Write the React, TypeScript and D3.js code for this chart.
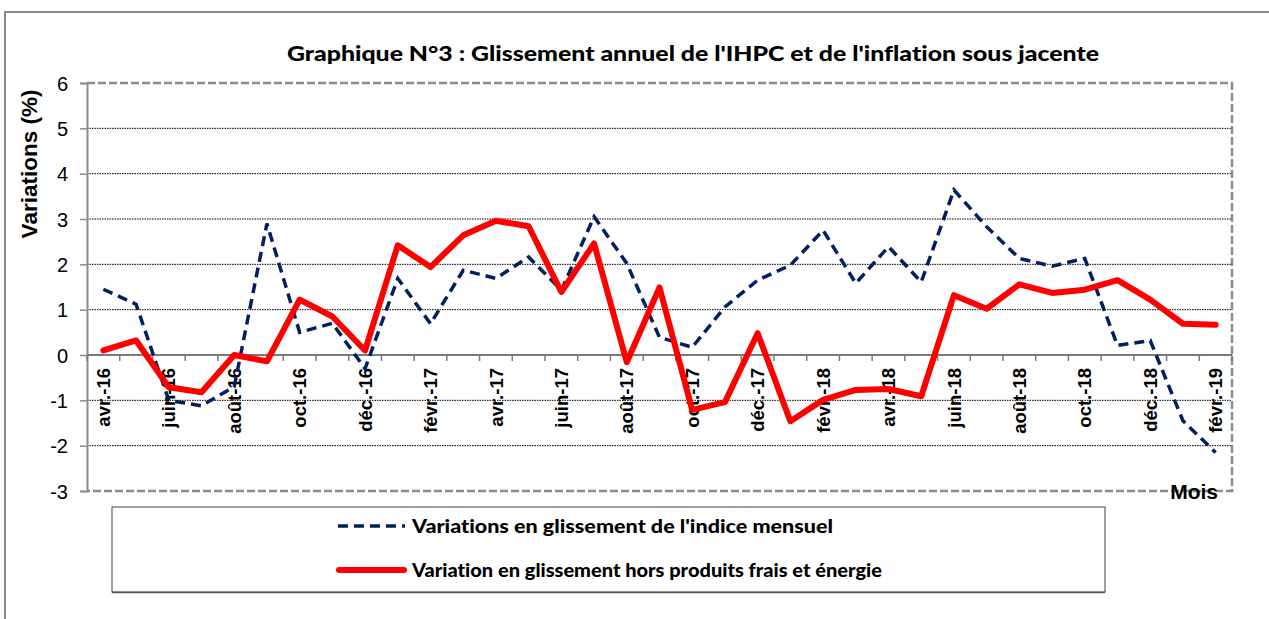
import React, { useEffect, useRef } from 'react'
import * as d3 from 'd3'

// mois (avr.-16 -> févr.-19)
const months = [
  'avr.-16', 'mai-16', 'juin-16', 'juil.-16', 'août-16', 'sept.-16', 'oct.-16', 'nov.-16', 'déc.-16',
  'janv.-17', 'févr.-17', 'mars-17', 'avr.-17', 'mai-17', 'juin-17', 'juil.-17', 'août-17', 'sept.-17',
  'oct.-17', 'nov.-17', 'déc.-17', 'janv.-18', 'févr.-18', 'mars-18', 'avr.-18', 'mai-18', 'juin-18',
  'juil.-18', 'août-18', 'sept.-18', 'oct.-18', 'nov.-18', 'déc.-18', 'janv.-19', 'févr.-19'
]

const indiceMensuel = [
  1.45, 1.12, -1.0, -1.12, -0.7, 2.9, 0.5, 0.7, -0.3, 1.69, 0.69, 1.87,
  1.69, 2.16, 1.43, 3.05, 2.02, 0.39, 0.17, 1.06, 1.65, 1.98, 2.75, 1.58,
  2.39, 1.61, 3.64, 2.83, 2.13, 1.96, 2.13, 0.21, 0.32, -1.45, -2.15
]

const horsProduitsFrais = [
  0.1, 0.32, -0.71, -0.82, 0.0, -0.14, 1.22, 0.85, 0.1, 2.42, 1.94, 2.64,
  2.96, 2.84, 1.39, 2.46, -0.16, 1.49, -1.21, -1.04, 0.48, -1.46, -0.99, -0.77,
  -0.75, -0.91, 1.32, 1.02, 1.56, 1.37, 1.44, 1.65, 1.22, 0.69, 0.67
]

const yTicks = [-3, -2, -1, 0, 1, 2, 3, 4, 5, 6]

const title = "Graphique N°3 : Glissement annuel de l'IHPC et de l'inflation sous jacente"
const legendLabels = [
  "Variations en glissement de l'indice mensuel",
  'Variation en glissement hors produits frais et énergie'
]

const W = 1269
const H = 619
const arial = "'Liberation Sans', Arial, sans-serif"
const calibri = "Lato, 'Open Sans', sans-serif"

export default function App() {
  const svgRef = useRef<SVGSVGElement>(null)

  useEffect(() => {
    const svg = d3.select(svgRef.current)
    svg.selectAll('*').remove()

    const left = 87, right = 1232, top = 83, bottom = 491

    const x = d3.scaleBand<string>().domain(months).range([left, right]).padding(0)
    const y = d3.scaleLinear().domain([-3, 6]).range([bottom, top])
    const cx = (d: string) => (x(d) as number) + x.bandwidth() / 2

    // outer frame
    svg.append('rect')
      .attr('x', 5).attr('y', 12).attr('width', W + 20).attr('height', H + 20)
      .attr('fill', 'white').attr('stroke', '#8c8c8c').attr('stroke-width', 2)

    // title
    svg.append('text')
      .attr('x', 287).attr('y', 61)
      .attr('textLength', 812).attr('lengthAdjust', 'spacingAndGlyphs')
      .style('font-family', calibri).style('font-weight', 900).style('font-size', '20px')
      .style('font-variant-ligatures', 'none')
      .text(title)

    // grid lines
    svg.append('g').selectAll('line')
      .data(yTicks.filter(t => t !== 0 && t !== 6 && t !== -3))
      .join('line')
      .attr('x1', left).attr('x2', right)
      .attr('y1', d => y(d)).attr('y2', d => y(d))
      .attr('stroke', '#000').attr('stroke-width', 1).attr('stroke-dasharray', '1.5,1')

    // plot area dashed border (top, right, bottom)
    svg.append('path')
      .attr('d', `M${left},${top}H${right}V${bottom}H${left}`)
      .attr('fill', 'none').attr('stroke', '#8c8c8c').attr('stroke-width', 2.5)
      .attr('stroke-dasharray', '8,3')

    // y axis
    const yAxis = d3.axisLeft(y).tickValues(yTicks).tickSize(7).tickPadding(12).tickFormat(d => String(d))
    const gy = svg.append('g').attr('transform', `translate(${left},0)`).call(yAxis)
    gy.select('.domain').attr('stroke', '#8c8c8c').attr('stroke-width', 2)
    gy.selectAll('.tick line').attr('stroke', '#8c8c8c').attr('stroke-width', 1.5)
    gy.selectAll('.tick text')
      .style('font-family', arial).style('font-size', '20px').attr('fill', '#000')
      .attr('dy', '0.36em')

    // zero axis with ticks between months
    const boundaries = months.map(m => x(m) as number).concat([right])
    const g0 = svg.append('g')
    g0.append('line')
      .attr('x1', left).attr('x2', right).attr('y1', y(0)).attr('y2', y(0))
      .attr('stroke', '#7a7a7a').attr('stroke-width', 2)
    g0.selectAll('line.tk').data(boundaries).join('line').attr('class', 'tk')
      .attr('x1', d => d).attr('x2', d => d)
      .attr('y1', y(0)).attr('y2', y(0) + 6)
      .attr('stroke', '#7a7a7a').attr('stroke-width', 1.5)

    // month labels (every second month)
    svg.append('g').selectAll('text')
      .data(months.filter((_, i) => i % 2 === 0))
      .join('text')
      .attr('transform', d => `translate(${cx(d)},${y(0) + 13}) rotate(-90)`)
      .attr('text-anchor', 'end').attr('dy', '0.36em')
      .style('font-family', arial).style('font-weight', 'bold').style('font-size', '18.5px')
      .text(d => d)

    // series
    const line = d3.line<number>()
      .x((_, i) => cx(months[i]))
      .y(d => y(d))

    svg.append('path')
      .datum(indiceMensuel)
      .attr('d', line)
      .attr('fill', 'none').attr('stroke', '#002060').attr('stroke-width', 3.5)
      .attr('stroke-dasharray', '10,6')

    svg.append('path')
      .datum(horsProduitsFrais)
      .attr('d', line)
      .attr('fill', 'none').attr('stroke', '#ff0000').attr('stroke-width', 6)
      .attr('stroke-linejoin', 'round').attr('stroke-linecap', 'round')

    // y title
    svg.append('text')
      .attr('transform', 'translate(37,164) rotate(-90)')
      .attr('text-anchor', 'middle')
      .style('font-family', arial).style('font-weight', 'bold').style('font-size', '22.5px')
      .text('Variations (%)')

    // x title
    svg.append('text')
      .attr('x', 1218).attr('y', 499).attr('text-anchor', 'end')
      .style('font-family', arial).style('font-weight', 'bold').style('font-size', '21px')
      .text('Mois')

    // legend
    const lg = svg.append('g')
    lg.append('rect')
      .attr('x', 112).attr('y', 507).attr('width', 993).attr('height', 85)
      .attr('fill', 'white').attr('stroke', '#404040').attr('stroke-width', 1)
    lg.append('line')
      .attr('x1', 112).attr('x2', 1105).attr('y1', 592.5).attr('y2', 592.5)
      .attr('stroke', '#555').attr('stroke-width', 1.5)

    const legendWidths = [421, 470]
    const legendY = [526, 570]
    lg.append('line')
      .attr('x1', 338).attr('x2', 405).attr('y1', legendY[0]).attr('y2', legendY[0])
      .attr('stroke', '#002060').attr('stroke-width', 3.5).attr('stroke-dasharray', '10,6')
    lg.append('line')
      .attr('x1', 339).attr('x2', 404).attr('y1', legendY[1]).attr('y2', legendY[1])
      .attr('stroke', '#ff0000').attr('stroke-width', 6).attr('stroke-linecap', 'round')

    lg.selectAll('text.lab').data(legendLabels).join('text').attr('class', 'lab')
      .attr('x', 412).attr('y', (_, i) => legendY[i] + 6.5)
      .attr('textLength', (_, i) => legendWidths[i]).attr('lengthAdjust', 'spacingAndGlyphs')
      .style('font-family', calibri).style('font-weight', 900).style('font-size', '18px')
      .style('font-variant-ligatures', 'none')
      .text(d => d)
  }, [])

  return (
    <svg ref={svgRef} width={W} height={H}
      style={{ position: 'absolute', left: 0, top: 0, background: 'white' }} />
  )
}
